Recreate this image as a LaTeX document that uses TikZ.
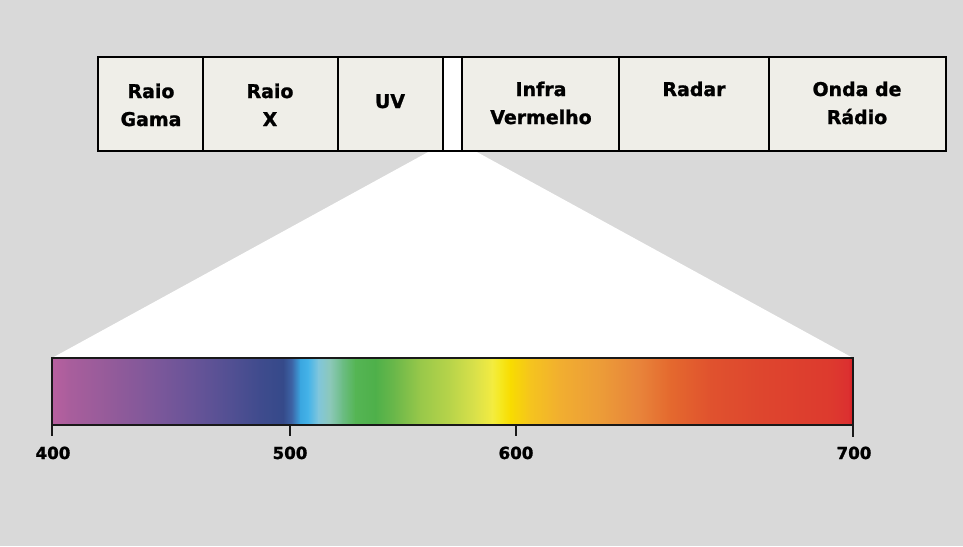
\documentclass[tikz,border=0pt]{standalone}
\usepackage{fontspec}
\setmainfont{DejaVu Sans}
\newfontfamily\heavyfont{DejaVu Sans Bold}[FakeBold=1.3]
\begin{document}
\begin{tikzpicture}[x=0.75pt,y=-0.75pt,
  cellbox/.style={draw=black,line width=1.5pt,fill=cellfill},
  lbl/.style={font=\heavyfont\fontsize{14.2}{16}\selectfont,anchor=base,inner sep=0pt},
  nlbl/.style={font=\heavyfont\fontsize{12.5}{14}\selectfont,anchor=base,inner sep=0pt},
  tick/.style={line width=1.5pt,draw=black!90}]
\definecolor{bg}{HTML}{D9D9D9}
\definecolor{cellfill}{HTML}{EFEEE8}
\path[use as bounding box,fill=bg] (0,0) rectangle (963,546);
% white zoom trapezoid
\fill[white] (430,151) -- (475,151) -- (853,358) -- (52,358) -- cycle;
% top bar cells
\path[cellbox] (98,57) rectangle (203,151);
\path[cellbox] (203,57) rectangle (338,151);
\path[cellbox] (338,57) rectangle (443,151);
\path[cellbox,fill=white] (443,57) rectangle (462,151);
\path[cellbox] (462,57) rectangle (619,151);
\path[cellbox] (619,57) rectangle (769,151);
\path[cellbox] (769,57) rectangle (946,151);
% labels
\node[lbl] (g1) at (151,98) {Raio};
\node[lbl] (g2) at (151,126) {Gama};
\node[lbl] (x1) at (270,98) {Raio};
\node[lbl] (x2) at (270,126) {X};
\node[lbl] (uv) at (390,108) {UV};
\node[lbl] (i1) at (541,96) {Infra};
\node[lbl] (i2) at (541,124) {Vermelho};
\node[lbl] (rd) at (694,96) {Radar};
\node[lbl] (o1) at (857,96) {Onda de};
\node[lbl] (o2) at (857,124) {Rádio};
% spectrum
\newcommand\specseg[4]{\fill[left color=#2,right color=#4] (#1,358) rectangle ({#3+0.6},425);}
\definecolor{c0}{HTML}{B8609F}
\definecolor{c1}{HTML}{A85E9C}
\definecolor{c2}{HTML}{945B9A}
\definecolor{c3}{HTML}{7A579A}
\definecolor{c4}{HTML}{645397}
\definecolor{c5}{HTML}{4F4F92}
\definecolor{c6}{HTML}{3F4B8D}
\definecolor{c7}{HTML}{354A8A}
\definecolor{c8}{HTML}{3D66A8}
\definecolor{c9}{HTML}{3AA6E0}
\definecolor{c10}{HTML}{45B3E8}
\definecolor{c11}{HTML}{80C6DC}
\definecolor{c12}{HTML}{8CC8B8}
\definecolor{c13}{HTML}{6CBD85}
\definecolor{c14}{HTML}{55B554}
\definecolor{c15}{HTML}{4EB04A}
\definecolor{c16}{HTML}{6CB84A}
\definecolor{c17}{HTML}{98C84A}
\definecolor{c18}{HTML}{B8D44A}
\definecolor{c19}{HTML}{DAE14A}
\definecolor{c20}{HTML}{F3EC40}
\definecolor{c21}{HTML}{F5E820}
\definecolor{c22}{HTML}{F8DC00}
\definecolor{c23}{HTML}{F5C41E}
\definecolor{c24}{HTML}{F1AE30}
\definecolor{c25}{HTML}{EC9C38}
\definecolor{c26}{HTML}{E8833A}
\definecolor{c27}{HTML}{E4692E}
\definecolor{c28}{HTML}{E0522E}
\definecolor{c29}{HTML}{DE462E}
\definecolor{c30}{HTML}{DD3A2E}
\definecolor{c31}{HTML}{DC3030}
\definecolor{c32}{HTML}{D82026}
\specseg{52}{c0}{70}{c1}
\specseg{70}{c1}{110}{c2}
\specseg{110}{c2}{160}{c3}
\specseg{160}{c3}{200}{c4}
\specseg{200}{c4}{235}{c5}
\specseg{235}{c5}{260}{c6}
\specseg{260}{c6}{283}{c7}
\specseg{283}{c7}{292}{c8}
\specseg{292}{c8}{300}{c9}
\specseg{300}{c9}{308}{c10}
\specseg{308}{c10}{318}{c11}
\specseg{318}{c11}{330}{c12}
\specseg{330}{c12}{342}{c13}
\specseg{342}{c13}{355}{c14}
\specseg{355}{c14}{375}{c15}
\specseg{375}{c15}{395}{c16}
\specseg{395}{c16}{420}{c17}
\specseg{420}{c17}{450}{c18}
\specseg{450}{c18}{475}{c19}
\specseg{475}{c19}{492}{c20}
\specseg{492}{c20}{500}{c21}
\specseg{500}{c21}{510}{c22}
\specseg{510}{c22}{530}{c23}
\specseg{530}{c23}{560}{c24}
\specseg{560}{c24}{600}{c25}
\specseg{600}{c25}{640}{c26}
\specseg{640}{c26}{670}{c27}
\specseg{670}{c27}{710}{c28}
\specseg{710}{c28}{760}{c29}
\specseg{760}{c29}{830}{c30}
\specseg{830}{c30}{848}{c31}
\fill[left color=c31,right color=c32] (848,358) rectangle (853,425);
\draw[line width=1.5pt,draw=black!90] (52,358) rectangle (853,425);
% ticks
\draw[tick] (52,425) -- (52,436);
\draw[tick] (290,425) -- (290,436);
\draw[tick] (516,425) -- (516,436);
\draw[tick] (853,425) -- (853,437);
\node[nlbl] (n400) at (53,459) {400};
\node[nlbl] (n500) at (290,459) {500};
\node[nlbl] (n600) at (516,459) {600};
\node[nlbl] (n700) at (854,459) {700};
\end{tikzpicture}
\end{document}
